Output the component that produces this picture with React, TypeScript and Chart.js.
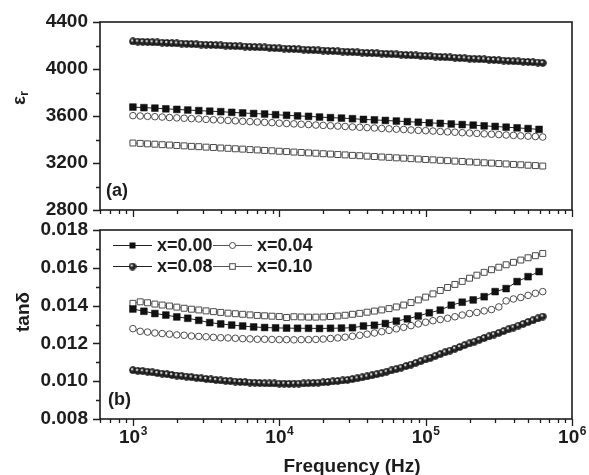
import React, { useEffect, useRef } from 'react';
import { Chart, registerables } from 'chart.js';

Chart.register(...registerables);

const FONT = "'Liberation Sans', Arial, Helvetica, sans-serif";
const INK = '#1c1c1c';
const W = 589;
const TOP_H = 222;
const BOT_H = 253;

// ---- frequencies (Hz) ----
const freqX000 = [1000, 1189, 1413, 1679, 1995, 2371, 2818, 3350, 3981, 4732, 5623, 6683, 7943, 9441, 11220, 13335, 15849, 18836, 22387, 26607, 31623, 37584, 44668, 53088, 63096, 74989, 89125, 105925, 125893, 149624, 177828, 211349, 251189, 298538, 354813, 421697, 501187, 595662];
const freqX004 = [1000, 1122, 1259, 1413, 1585, 1778, 1995, 2239, 2512, 2818, 3162, 3548, 3981, 4467, 5012, 5623, 6310, 7079, 7943, 8913, 10000, 11220, 12589, 14125, 15849, 17783, 19953, 22387, 25119, 28184, 31623, 35481, 39811, 44668, 50119, 56234, 63096, 70795, 79433, 89125, 100000, 112202, 125893, 141254, 158489, 177828, 199526, 223872, 251189, 281838, 316228, 354813, 398107, 446684, 501187, 562341, 630957];
const freqX008 = [1000, 1080, 1166, 1259, 1359, 1468, 1585, 1711, 1848, 1995, 2154, 2326, 2512, 2712, 2929, 3162, 3415, 3687, 3981, 4299, 4642, 5012, 5412, 5843, 6310, 6813, 7356, 7943, 8577, 9261, 10000, 10798, 11659, 12589, 13594, 14678, 15849, 17113, 18478, 19953, 21544, 23263, 25119, 27123, 29286, 31623, 34146, 36869, 39811, 42987, 46416, 50119, 54117, 58434, 63096, 68129, 73564, 79433, 85770, 92612, 100000, 107978, 116591, 125893, 135936, 146780, 158489, 171133, 184785, 199526, 215443, 232631, 251189, 271227, 292864, 316228, 341455, 368695, 398107, 429866, 464159, 501187, 541170, 584341, 630957];
const freqX010 = [1000, 1122, 1259, 1413, 1585, 1778, 1995, 2239, 2512, 2818, 3162, 3548, 3981, 4467, 5012, 5623, 6310, 7079, 7943, 8913, 10000, 11220, 12589, 14125, 15849, 17783, 19953, 22387, 25119, 28184, 31623, 35481, 39811, 44668, 50119, 56234, 63096, 70795, 79433, 89125, 100000, 112202, 125893, 141254, 158489, 177828, 199526, 223872, 251189, 281838, 316228, 354813, 398107, 446684, 501187, 562341, 630957];

// ---- panel (a): dielectric constant ----
const erX000 = [3676, 3671, 3667, 3661, 3656, 3651, 3646, 3641, 3637, 3631, 3626, 3621, 3617, 3611, 3606, 3601, 3597, 3591, 3586, 3582, 3577, 3571, 3567, 3562, 3557, 3552, 3547, 3542, 3537, 3532, 3527, 3522, 3516, 3511, 3505, 3499, 3493, 3486];
const erX004 = [3603, 3600, 3597, 3594, 3591, 3587, 3584, 3581, 3578, 3575, 3571, 3568, 3565, 3562, 3559, 3555, 3552, 3549, 3546, 3543, 3539, 3536, 3533, 3530, 3527, 3523, 3520, 3517, 3514, 3511, 3507, 3504, 3501, 3498, 3494, 3491, 3488, 3485, 3481, 3478, 3475, 3472, 3468, 3465, 3462, 3458, 3455, 3452, 3448, 3445, 3442, 3438, 3435, 3431, 3428, 3425, 3421];
const erX008 = [4235, 4233, 4231, 4229, 4228, 4226, 4224, 4222, 4220, 4218, 4216, 4214, 4212, 4210, 4208, 4206, 4205, 4203, 4201, 4199, 4197, 4195, 4193, 4191, 4189, 4187, 4185, 4183, 4181, 4178, 4176, 4174, 4172, 4170, 4168, 4165, 4163, 4161, 4159, 4157, 4155, 4153, 4150, 4148, 4146, 4144, 4141, 4139, 4137, 4135, 4133, 4131, 4129, 4126, 4124, 4122, 4119, 4117, 4115, 4113, 4111, 4108, 4106, 4103, 4101, 4098, 4096, 4093, 4091, 4088, 4087, 4084, 4082, 4079, 4077, 4074, 4072, 4069, 4066, 4064, 4062, 4060, 4057, 4055, 4052];
const erX010 = [3370, 3367, 3363, 3360, 3356, 3353, 3349, 3346, 3342, 3339, 3335, 3332, 3328, 3325, 3321, 3318, 3314, 3311, 3307, 3304, 3300, 3297, 3293, 3290, 3286, 3283, 3279, 3276, 3272, 3269, 3265, 3262, 3258, 3255, 3251, 3248, 3244, 3241, 3237, 3234, 3230, 3227, 3223, 3220, 3216, 3213, 3209, 3206, 3202, 3199, 3195, 3192, 3188, 3185, 3181, 3178, 3174];

// ---- panel (b): loss tangent ----
const tanX000 = [0.01382, 0.01370, 0.01358, 0.01350, 0.01340, 0.01333, 0.01322, 0.01310, 0.01303, 0.01297, 0.01292, 0.01287, 0.01284, 0.01282, 0.01281, 0.01280, 0.01280, 0.01279, 0.01280, 0.01281, 0.01283, 0.01292, 0.01296, 0.01305, 0.01318, 0.01330, 0.01345, 0.01362, 0.01376, 0.01402, 0.01418, 0.01430, 0.01447, 0.01474, 0.01490, 0.01527, 0.01553, 0.01580];
const tanX004 = [0.01278, 0.01264, 0.01260, 0.01255, 0.01252, 0.01249, 0.01245, 0.01243, 0.01239, 0.01237, 0.01235, 0.01232, 0.01230, 0.01229, 0.01227, 0.01225, 0.01224, 0.01222, 0.01222, 0.01221, 0.01220, 0.01220, 0.01219, 0.01220, 0.01220, 0.01221, 0.01223, 0.01226, 0.01229, 0.01233, 0.01238, 0.01243, 0.01249, 0.01255, 0.01262, 0.01269, 0.01277, 0.01285, 0.01294, 0.01303, 0.01312, 0.01320, 0.01326, 0.01333, 0.01341, 0.01350, 0.01358, 0.01364, 0.01372, 0.01379, 0.01393, 0.01425, 0.01435, 0.01443, 0.01454, 0.01465, 0.01474];
const tanX008 = [0.01058, 0.01055, 0.01053, 0.01050, 0.01047, 0.01043, 0.01040, 0.01037, 0.01033, 0.01030, 0.01027, 0.01024, 0.01021, 0.01018, 0.01015, 0.01012, 0.01009, 0.01007, 0.01004, 0.01002, 0.01000, 0.00998, 0.00996, 0.00995, 0.00993, 0.00992, 0.00990, 0.00989, 0.00988, 0.00988, 0.00987, 0.00987, 0.00986, 0.00987, 0.00987, 0.00988, 0.00989, 0.00991, 0.00992, 0.00994, 0.00996, 0.00999, 0.01001, 0.01004, 0.01007, 0.01011, 0.01015, 0.01020, 0.01025, 0.01031, 0.01037, 0.01043, 0.01050, 0.01057, 0.01064, 0.01072, 0.01080, 0.01088, 0.01097, 0.01106, 0.01115, 0.01124, 0.01134, 0.01143, 0.01153, 0.01162, 0.01172, 0.01181, 0.01191, 0.01200, 0.01209, 0.01219, 0.01228, 0.01237, 0.01247, 0.01256, 0.01265, 0.01275, 0.01284, 0.01294, 0.01303, 0.01313, 0.01322, 0.01332, 0.01342];
const tanX010 = [0.01412, 0.01420, 0.01415, 0.01408, 0.01403, 0.01398, 0.01392, 0.01386, 0.01381, 0.01377, 0.01372, 0.01368, 0.01364, 0.01360, 0.01357, 0.01354, 0.01351, 0.01348, 0.01346, 0.01344, 0.01342, 0.01337, 0.01341, 0.01340, 0.01339, 0.01339, 0.01340, 0.01342, 0.01345, 0.01349, 0.01354, 0.01359, 0.01365, 0.01371, 0.01377, 0.01384, 0.01393, 0.01403, 0.01416, 0.01430, 0.01445, 0.01462, 0.01480, 0.01496, 0.01512, 0.01528, 0.01545, 0.01561, 0.01576, 0.01590, 0.01603, 0.01616, 0.01629, 0.01641, 0.01653, 0.01664, 0.01676];

const seriesLabels = ['x=0.00', 'x=0.04', 'x=0.08', 'x=0.10'];
const xMin = 596;
const xMax = 1000000;
const xMajorTicks = [1000, 10000, 100000, 1000000];
const xMajorExponents = ['3', '4', '5', '6'];
const erRange = [2800, 4400];
const erStep = 400;
const tanRange = [0.008, 0.018];
const tanStep = 0.002;

function makeSphere(): HTMLCanvasElement {
  const c = document.createElement('canvas');
  c.width = 8;
  c.height = 8;
  const g = c.getContext('2d')!;
  g.beginPath();
  g.arc(4, 4, 3.4, 0, Math.PI * 2);
  g.fillStyle = '#262626';
  g.fill();
  g.beginPath();
  g.arc(3.2, 3.0, 1.2, 0, Math.PI * 2);
  g.fillStyle = '#d8d8d8';
  g.fill();
  g.beginPath();
  g.arc(4, 4, 3.4, 0, Math.PI * 2);
  g.strokeStyle = '#111';
  g.lineWidth = 0.8;
  g.stroke();
  return c;
}

function buildDatasets(values: number[][], sphere: HTMLCanvasElement) {
  const freqs = [freqX000, freqX004, freqX008, freqX010];
  return values.map((vals, i) => {
    const data = freqs[i].map((f, j) => ({ x: f, y: vals[j] }));
    const base: any = { label: seriesLabels[i], data, showLine: true, borderWidth: 1, pointHoverRadius: 0 };
    if (i === 0) {
      return { ...base, borderColor: '#222', pointStyle: 'rect', pointRadius: 4.8, pointBackgroundColor: '#111', pointBorderColor: '#111', pointBorderWidth: 0.5 };
    }
    if (i === 1) {
      return { ...base, borderColor: '#666', pointStyle: 'circle', pointRadius: 3.3, pointBackgroundColor: '#fff', pointBorderColor: '#4a4a4a', pointBorderWidth: 1 };
    }
    if (i === 2) {
      return { ...base, borderColor: '#222', pointStyle: sphere, pointRadius: 3.5 };
    }
    return { ...base, borderColor: '#666', pointStyle: 'rect', pointRadius: 4.2, pointBackgroundColor: '#fff', pointBorderColor: '#4a4a4a', pointBorderWidth: 1 };
  });
}

function drawSymbol(ctx: CanvasRenderingContext2D, idx: number, x: number, y: number, sphere: HTMLCanvasElement) {
  ctx.save();
  if (idx === 0) {
    ctx.fillStyle = '#111';
    ctx.fillRect(x - 3, y - 3, 6, 6);
  } else if (idx === 1) {
    ctx.beginPath();
    ctx.arc(x, y, 3, 0, Math.PI * 2);
    ctx.fillStyle = '#fff';
    ctx.fill();
    ctx.strokeStyle = '#4a4a4a';
    ctx.lineWidth = 1;
    ctx.stroke();
  } else if (idx === 2) {
    ctx.drawImage(sphere, x - sphere.width / 2, y - sphere.height / 2);
  } else {
    ctx.fillStyle = '#fff';
    ctx.fillRect(x - 2.8, y - 2.8, 5.6, 5.6);
    ctx.strokeStyle = '#4a4a4a';
    ctx.lineWidth = 1;
    ctx.strokeRect(x - 2.8, y - 2.8, 5.6, 5.6);
  }
  ctx.restore();
}

type DecoOpts = {
  off: number;
  yTitle: 'er' | 'tan';
  yTitlePos: [number, number];
  panelLabel: string;
  panelPos: [number, number];
  legend: boolean;
  xLabels: boolean;
  sphere: HTMLCanvasElement;
};

function makeDeco(o: DecoOpts) {
  return {
    id: 'deco',
    afterDraw(chart: any) {
      const ctx: CanvasRenderingContext2D = chart.ctx;
      const a = chart.chartArea;
      const xs = chart.scales.x;
      const ys = chart.scales.y;
      const off = o.off;
      ctx.save();
      ctx.strokeStyle = INK;
      ctx.lineWidth = 1.3;
      ctx.beginPath();
      const yv: number[] = ys.ticks.map((t: any) => t.value);
      yv.forEach((v, i) => {
        const py = Math.round(ys.getPixelForValue(v)) + 0.5;
        ctx.moveTo(a.left - 7, py);
        ctx.lineTo(a.left, py);
        if (i < yv.length - 1) {
          const pm = Math.round(ys.getPixelForValue((v + yv[i + 1]) / 2)) + 0.5;
          ctx.moveTo(a.left - 4, pm);
          ctx.lineTo(a.left, pm);
        }
      });
      for (let e = 2; e <= 6; e++) {
        for (let k = 1; k <= 9; k++) {
          const v = k * Math.pow(10, e);
          if (v < xs.min || v > xs.max * 1.0001) continue;
          const px = Math.round(xs.getPixelForValue(v)) + 0.5;
          ctx.moveTo(px, a.bottom);
          ctx.lineTo(px, a.bottom + (k === 1 ? 7 : 4));
        }
      }
      ctx.stroke();
      ctx.lineWidth = 1.6;
      ctx.strokeRect(a.left, a.top, a.right - a.left, a.bottom - a.top);

      ctx.fillStyle = INK;
      ctx.font = `bold 18px ${FONT}`;
      ctx.textAlign = 'left';
      ctx.textBaseline = 'middle';
      ctx.fillText(o.panelLabel, o.panelPos[0], o.panelPos[1] - off);

      // y title
      ctx.save();
      ctx.translate(o.yTitlePos[0], o.yTitlePos[1] - off);
      ctx.rotate(-Math.PI / 2);
      ctx.textBaseline = 'alphabetic';
      ctx.textAlign = 'left';
      if (o.yTitle === 'er') {
        ctx.font = `bold 19px ${FONT}`;
        const w1 = ctx.measureText('ε').width;
        ctx.font = `bold 13px ${FONT}`;
        const w2 = ctx.measureText('r').width;
        const start = -(w1 + w2) / 2;
        ctx.font = `bold 19px ${FONT}`;
        ctx.fillText('ε', start, 5);
        ctx.font = `bold 13px ${FONT}`;
        ctx.fillText('r', start + w1, 8);
      } else {
        ctx.font = `bold 19px ${FONT}`;
        ctx.textAlign = 'center';
        ctx.fillText('tanδ', 0, 7);
      }
      ctx.restore();

      if (o.legend) {
        const rows = [245 - off, 266 - off];
        const cols = [113, 213];
        const layout = [[0, 1], [2, 3]];
        layout.forEach((row, ri) => {
          row.forEach((si, ci) => {
            const x0 = cols[ci];
            const y = rows[ri];
            ctx.strokeStyle = si % 2 === 0 ? '#222' : '#555';
            ctx.lineWidth = 1.2;
            ctx.beginPath();
            ctx.moveTo(x0, y + 0.5);
            ctx.lineTo(x0 + 39, y + 0.5);
            ctx.stroke();
            drawSymbol(ctx, si, x0 + 19.5, y + 0.5, o.sphere);
            ctx.fillStyle = INK;
            ctx.font = `bold 18px ${FONT}`;
            ctx.textAlign = 'left';
            ctx.textBaseline = 'middle';
            ctx.fillText(seriesLabels[si], x0 + 44, y + 1);
          });
        });
      }

      if (o.xLabels) {
        ctx.fillStyle = INK;
        ctx.textAlign = 'left';
        ctx.textBaseline = 'alphabetic';
        xMajorTicks.forEach((v, i) => {
          const px = xs.getPixelForValue(v);
          ctx.font = `bold 19px ${FONT}`;
          const w1 = ctx.measureText('10').width;
          ctx.font = `bold 12px ${FONT}`;
          const w2 = ctx.measureText(xMajorExponents[i]).width;
          const start = px - (w1 + w2) / 2;
          ctx.font = `bold 19px ${FONT}`;
          ctx.fillText('10', start, 443 - off);
          ctx.font = `bold 12px ${FONT}`;
          ctx.fillText(xMajorExponents[i], start + w1 + 0.5, 435 - off);
        });
        ctx.font = `bold 19px ${FONT}`;
        ctx.textAlign = 'center';
        ctx.fillText('Frequency (Hz)', 352, 472 - off);
      }
      ctx.restore();
    },
  };
}

function makeConfig(values: number[][], range: number[], step: number, fmt: (v: number) => string, xAxisH: number, padTop: number, deco: any, sphere: HTMLCanvasElement): any {
  return {
    type: 'scatter',
    data: { datasets: buildDatasets(values, sphere) },
    options: {
      animation: false,
      responsive: false,
      events: [],
      layout: { padding: { top: padTop, right: 17, left: 0, bottom: 0 } },
      plugins: { legend: { display: false }, tooltip: { enabled: false } },
      scales: {
        x: {
          type: 'logarithmic',
          min: xMin,
          max: xMax,
          grid: { display: false, drawTicks: false },
          border: { display: false },
          ticks: { display: false },
          afterBuildTicks: (s: any) => {
            s.ticks = xMajorTicks.map((v) => ({ value: v }));
          },
          afterFit: (s: any) => {
            s.height = xAxisH;
            s.paddingLeft = 0;
            s.paddingRight = 0;
            s.paddingTop = 0;
            s.paddingBottom = 0;
          },
        },
        y: {
          type: 'linear',
          min: range[0],
          max: range[1],
          grid: { display: false, drawTicks: false },
          border: { display: false },
          ticks: {
            stepSize: step,
            color: INK,
            padding: 12,
            font: { family: FONT, size: 19, weight: 'bold' },
            callback: (v: any) => fmt(Number(v)),
          },
          afterFit: (s: any) => {
            s.width = 100;
            s.paddingTop = 0;
            s.paddingBottom = 0;
            s.paddingLeft = 0;
            s.paddingRight = 0;
          },
        },
      },
    },
    plugins: [deco],
  };
}

export default function App() {
  const topRef = useRef<HTMLCanvasElement>(null);
  const botRef = useRef<HTMLCanvasElement>(null);

  useEffect(() => {
    const sphere = makeSphere();
    const top = new Chart(
      topRef.current!,
      makeConfig(
        [erX000, erX004, erX008, erX010],
        erRange,
        erStep,
        (v) => String(Math.round(v)),
        12,
        22,
        makeDeco({ off: 0, yTitle: 'er', yTitlePos: [20, 98], panelLabel: '(a)', panelPos: [106, 191], legend: false, xLabels: false, sphere }),
        sphere
      )
    );
    const bot = new Chart(
      botRef.current!,
      makeConfig(
        [tanX000, tanX004, tanX008, tanX010],
        tanRange,
        tanStep,
        (v) => v.toFixed(3),
        56,
        8,
        makeDeco({ off: TOP_H, yTitle: 'tan', yTitlePos: [22, 312], panelLabel: '(b)', panelPos: [108, 400], legend: true, xLabels: true, sphere }),
        sphere
      )
    );
    return () => {
      top.destroy();
      bot.destroy();
    };
  }, []);

  return (
    <div style={{ position: 'absolute', left: 0, top: 0, width: W, height: TOP_H + BOT_H, background: '#fff' }}>
      <canvas ref={topRef} width={W} height={TOP_H} style={{ position: 'absolute', left: 0, top: 0, width: W, height: TOP_H }} />
      <canvas ref={botRef} width={W} height={BOT_H} style={{ position: 'absolute', left: 0, top: TOP_H, width: W, height: BOT_H }} />
    </div>
  );
}
